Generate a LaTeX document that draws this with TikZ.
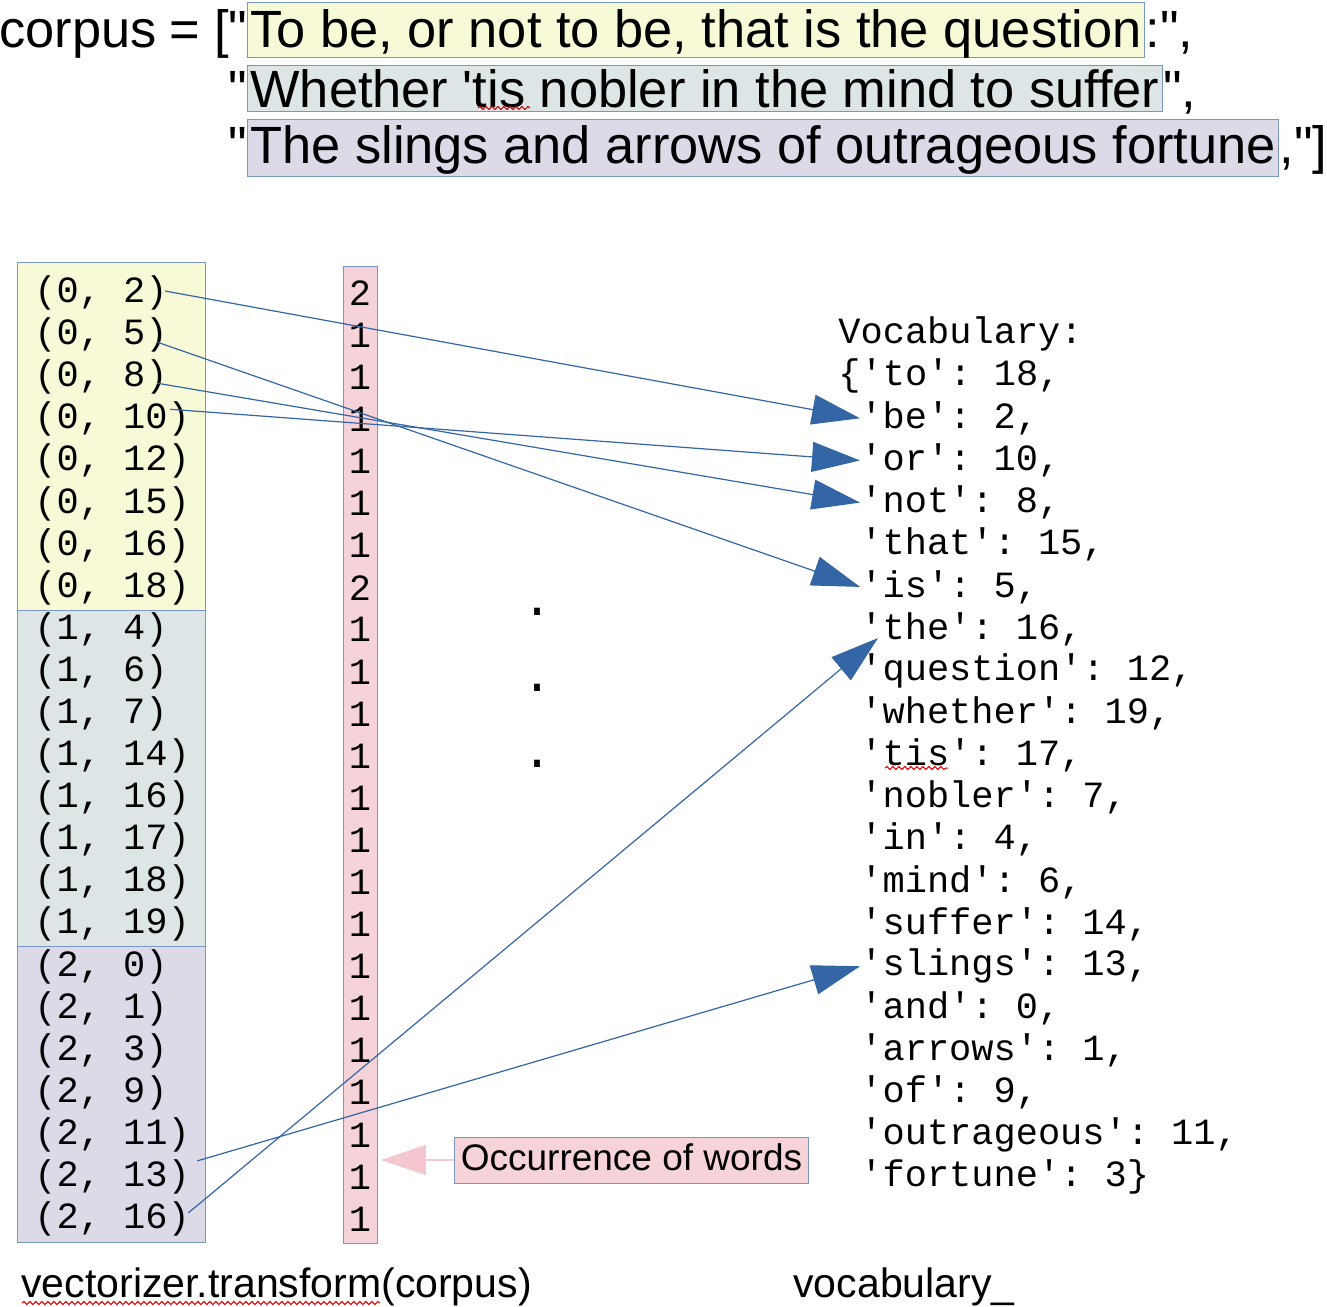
\documentclass[tikz,border=0pt]{standalone}
\usepackage{fontspec}
\setmainfont{Liberation Sans}
\setmonofont{Liberation Mono}
\usetikzlibrary{arrows.meta, calc, decorations.pathmorphing}
\definecolor{ayellow}{HTML}{F8F9D6}
\definecolor{agrey}{HTML}{DDE5E6}
\definecolor{alilac}{HTML}{DCDAE6}
\definecolor{apink}{HTML}{F5D3D8}
\definecolor{bord}{HTML}{7A96C4}
\definecolor{ablue}{HTML}{3465A4}
\definecolor{parrow}{HTML}{F4C6CD}

\begin{document}
\begin{tikzpicture}[x=0.5pt,y=-0.5pt,
  sent/.style={draw=bord,inner xsep=1.5pt,inner ysep=0pt,anchor=base west,
               font=\fontsize{26.2}{26.2}\selectfont},
  plain/.style={inner sep=0pt,font=\fontsize{26.2}{26.2}\selectfont},
  code/.style={inner sep=0pt,font=\ttfamily\fontsize{18.5}{18.5}\selectfont},
  grp/.style={draw=bord,inner sep=0pt,anchor=north west},
  captxt/.style={inner sep=0pt,anchor=base west,font=\fontsize{20.5}{20.5}\selectfont},
  arr/.style={-{Triangle[length=24pt,width=15pt]},ablue,line width=0.6pt},
  parr/.style={-{Triangle[length=22.5pt,width=15pt]},parrow,line width=0.6pt},
  squig/.style={red!85!black,line width=0.5pt,decorate,
                decoration={snake,amplitude=0.8pt,segment length=3pt}}
]
\useasboundingbox (0,0) rectangle (1327,1306);

% Corpus
\node[sent,fill=ayellow,text height=22.5pt,text depth=5pt] (s1) at (247,47)
  {To be, or not to be, that is the question};
\node[plain,anchor=base east] (p1) at (s1.base west)
  {corpus\kern-1pt{} = [\kern-0.5pt\textquotedbl};
\node[plain,anchor=base west] (e1) at (s1.base east) {:\textquotedbl,};
\node[sent,fill=agrey,text height=21pt,text depth=2pt] (s2) at (247,107)
  {Whether \textquotesingle tis nobler in the mind to suffer};
\node[plain,anchor=base east] (p2) at (s2.base west) {\textquotedbl};
\node[plain,anchor=base west] (e2) at (s2.base east) {\textquotedbl,};
\node[sent,fill=alilac,text height=22pt,text depth=6.5pt] (s3) at (247,163)
  {The slings and arrows of outrageous fortune};
\node[plain,anchor=base east] (p3) at (s3.base west) {\textquotedbl};
\node[plain,anchor=base west] (e3) at (s3.base east) {,\textquotedbl]};
\draw[squig] (478,108) -- (530,108);

% Sparse matrix
\node[grp,fill=ayellow,minimum width=94pt,minimum height=174pt] (g0) at (17,262) {};
\node[grp,fill=agrey,minimum width=94pt,minimum height=168pt] (g1) at (17,610) {};
\node[grp,fill=alilac,minimum width=94pt,minimum height=148pt] (g2) at (17,946) {};
\node[grp,fill=apink,minimum width=17pt,minimum height=488.5pt] (cnt) at (343,266) {};
\foreach \t [count=\i] in {{(0, 2)},{(0, 5)},{(0, 8)},{(0, 10)},{(0, 12)},{(0, 15)},
    {(0, 16)},{(0, 18)},{(1, 4)},{(1, 6)},{(1, 7)},{(1, 14)},{(1, 16)},{(1, 17)},
    {(1, 18)},{(1, 19)},{(2, 0)},{(2, 1)},{(2, 3)},{(2, 9)},{(2, 11)},{(2, 13)},{(2, 16)}}
  \node[code,anchor=west] (r\i) at (34,{293+42.09*(\i-1)}) {\t};
\foreach \c [count=\i] in {2,1,1,1,1,1,1,2,1,1,1,1,1,1,1,1,1,1,1,1,1,1,1}
  \node[code] (c\i) at (360,{293+42.09*(\i-1)}) {\c};
\foreach \y [count=\i] in {615,691,767}
  \node[code,font=\ttfamily\fontsize{25}{25}\selectfont,anchor=base] (d\i) at (537,\y) {.};

% Vocabulary
\foreach \t [count=\k from 0] in {{Vocabulary:},{\{'to': 18,},{'be': 2,},{'or': 10,},
    {'not': 8,},{'that': 15,},{'is': 5,},{'the': 16,},{'question': 12,},
    {'whether': 19,},{'tis': 17,},{'nobler': 7,},{'in': 4,},{'mind': 6,},
    {'suffer': 14,},{'slings': 13,},{'and': 0,},{'arrows': 1,},{'of': 9,},
    {'outrageous': 11,},{'fortune': 3\}}}
  {\pgfmathsetmacro\vx{\k<2 ? 838 : 860}
   \node[code,anchor=west] (v\k) at (\vx,{334+42.15*\k}) {\t};}
\draw[squig] (885,768) -- (948,768);

% Index -> word
\draw[arr] ($(r1.east)+(-3,-2)$) -- (v2.west);
\draw[arr] ($(r2.east)+(-11,7)$) -- (v6.west);
\draw[arr] ($(r3.east)+(-11,6)$) -- (v4.west);
\draw[arr] ($(r4.east)+(-20,-10)$) -- (v3.west);
\draw[arr] ($(r22.east)+(7,-16)$) -- (v15.west);
\draw[arr] ($(r23.east)+(-2,-6)$) -- ($(v7.west)+(18,9)$);

% Counts
\node[draw=bord,fill=apink,inner xsep=3pt,inner ysep=2.5pt,text height=14pt,
      text depth=4pt,font=\fontsize{18.5}{18.5}\selectfont] (occ) at (631.5,1160)
  {Occurrence of words};
\draw[parr] (occ.west) -- ($(occ.west -| cnt.east)+(3,0)$);

% Captions
\node[captxt] (t1) at (21,1297) {vectorizer.transform(corpus)};
\node[captxt] (t2) at (793,1297) {vocabulary\_};
\draw[squig] (22,1303) -- (380,1303);
\end{tikzpicture}
\end{document}
